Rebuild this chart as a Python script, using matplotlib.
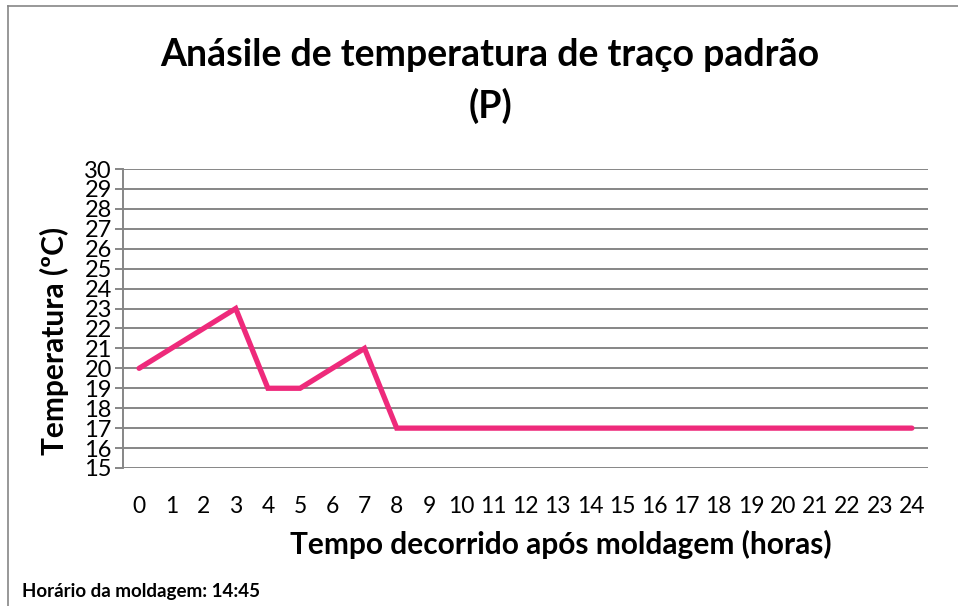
import matplotlib.pyplot as plt
from matplotlib.lines import Line2D

# data
horas = list(range(25))
temperatura = [20, 21, 22, 23, 19, 19, 20, 21, 17, 17, 17, 17, 17, 17, 17, 17,
               17, 17, 17, 17, 17, 17, 17, 17, 17]
y_ticks = list(range(15, 31))

plt.rcParams['font.family'] = ['Lato', 'DejaVu Sans']

fig = plt.figure(figsize=(9.58, 6.06), dpi=100)
W, H = 958, 606
ax = fig.add_axes([123 / W, 1 - 468 / H, (928 - 123) / W, (468 - 169) / H])

ax.plot(horas, temperatura, color='#EE2A7B', lw=3.8, solid_capstyle='round',
        solid_joinstyle='miter', zorder=3)

ax.set_xlim(-0.5, 24.5)
ax.set_ylim(15, 30)
ax.set_yticks(y_ticks)
ax.set_xticks(horas)
ax.grid(axis='y', color='#868686', lw=1.4)
ax.set_axisbelow(True)
for s in ['top', 'right', 'bottom']:
    ax.spines[s].set_visible(False)
ax.spines['left'].set_color('#868686')
ax.spines['left'].set_linewidth(1.4)
ax.tick_params(axis='y', length=6, color='#868686', width=1.4, labelsize=17, pad=2)
ax.tick_params(axis='x', length=0, labelsize=16.5, pad=20)
for lab in ax.get_xticklabels() + ax.get_yticklabels():
    lab.set_color('black')

fig.text(561 / W, 1 - 544 / H, 'Tempo decorrido após moldagem (horas)', ha='center', va='center',
         fontsize=21.5, fontweight='bold')
fig.text(54 / W, 1 - 341 / H, 'Temperatura (ºC)', ha='center', va='center', rotation=90,
         fontsize=21.5, fontweight='bold')

fig.text(490 / W, 1 - 81 / H, 'Anásile de temperatura de traço padrão\n(P)', ha='center', va='center',
         fontsize=27, fontweight='bold', linespacing=1.5)
fig.text(22 / W, 1 - 592 / H, 'Horário da moldagem: 14:45', ha='left', va='center',
         fontsize=13.5, fontweight='bold')

# chart border (only top and left visible in the crop)
fig.add_artist(Line2D([8 / W, 8 / W], [0, 1 - 6 / H], color='#868686', lw=1.2, transform=fig.transFigure))
fig.add_artist(Line2D([8 / W, 1], [1 - 6 / H, 1 - 6 / H], color='#868686', lw=1.2, transform=fig.transFigure))

fig.savefig('out.png', dpi=100)
